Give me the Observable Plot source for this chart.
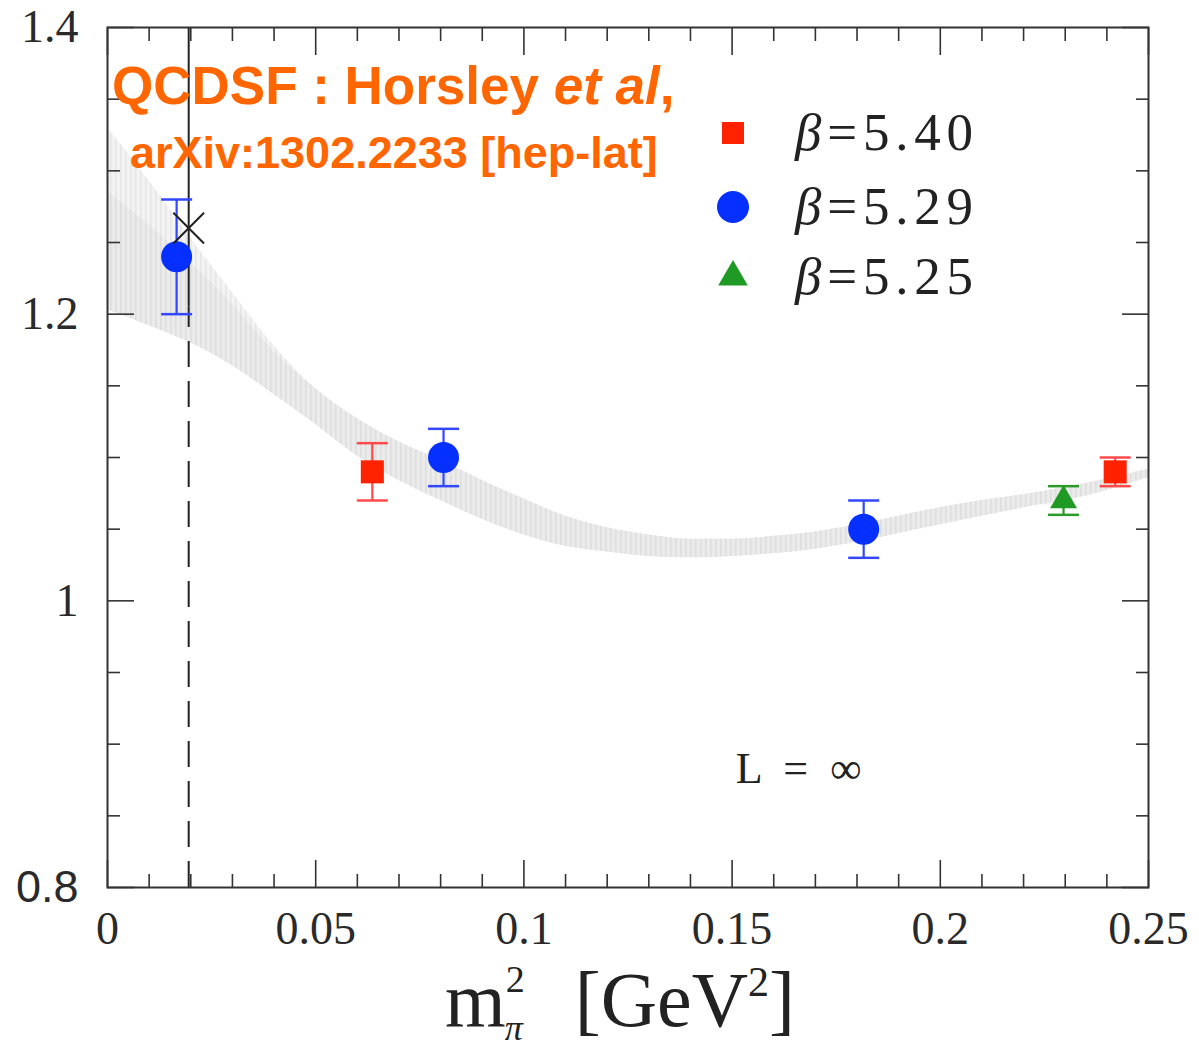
<!DOCTYPE html>
<html><head><meta charset="utf-8">
<script src="https://cdn.jsdelivr.net/npm/d3@7"></script>
<script src="https://cdn.jsdelivr.net/npm/@observablehq/plot@0.6"></script>
<style>body{margin:0;background:#fff;} #chart svg{display:block;}</style>
</head><body><div id="chart"></div>
<script>
// ---- tick values ----
const xMajorTicks = [0, 0.05, 0.1, 0.15, 0.2, 0.25];
const xMinorTicks = [0.01,0.02,0.03,0.04,0.06,0.07,0.08,0.09,0.11,0.12,0.13,0.14,0.16,0.17,0.18,0.19,0.21,0.22,0.23,0.24];
const yMajorTicks = [0.8, 1.0, 1.2, 1.4];
const yMinorTicks = [0.85,0.9,0.95,1.05,1.1,1.15,1.25,1.3,1.35];

// ---- data: beta = 5.40 (red squares) ----
const b540X = [0.0636, 0.242];
const b540Y = [1.09, 1.09];
const b540Err = [0.02, 0.01];
// ---- beta = 5.29 (blue circles) ----
const b529X = [0.0166, 0.0807, 0.1816];
const b529Y = [1.24, 1.10, 1.05];
const b529Err = [0.04, 0.02, 0.02];
// ---- beta = 5.25 (green triangle) ----
const b525X = [0.2296];
const b525Y = [1.07];
const b525Err = [0.01];

// ---- physical point (extrapolation) ----
const physX = [0.0195];
const physY = [1.26];

// ---- fit band ----
const bandX     = [0, 0.01, 0.02, 0.03, 0.04, 0.05, 0.06, 0.07, 0.08, 0.09, 0.10, 0.11, 0.12, 0.13, 0.14, 0.15, 0.16, 0.17, 0.18, 0.19, 0.20, 0.21, 0.22, 0.23, 0.24, 0.25];
const bandUpper = [1.330, 1.293, 1.253, 1.215, 1.178, 1.148, 1.127, 1.111, 1.098, 1.084, 1.071, 1.059, 1.051, 1.046, 1.043, 1.043, 1.045, 1.048, 1.053, 1.059, 1.065, 1.070, 1.074, 1.079, 1.085, 1.092];
const bandInner = [1.286, 1.262, 1.236, 1.207, 1.174, 1.148, 1.127, 1.111, 1.098, 1.084, 1.071, 1.059, 1.051, 1.046, 1.043, 1.043, 1.045, 1.048, 1.053, 1.059, 1.065, 1.070, 1.074, 1.079, 1.085, 1.092];
const bandLower = [1.203, 1.192, 1.180, 1.164, 1.144, 1.123, 1.101, 1.084, 1.070, 1.057, 1.046, 1.038, 1.034, 1.031, 1.030, 1.031, 1.033, 1.036, 1.041, 1.047, 1.053, 1.059, 1.065, 1.070, 1.077, 1.086];

// ---- text ----
const legendLabels = ["5.40", "5.29", "5.25"];
const annotation = {x: 0.166, y: 0.883, text: "L = ∞"};
const dashSplit = 1.205;

const band = bandX.map((x, i) => ({x, hi: bandUpper[i], inner: bandInner[i], lo: bandLower[i]}));
const toRows = (xs, ys, es) => xs.map((x, i) => ({x, y: ys[i], err: es[i]}));

const series = [
  {rows: toRows(b540X, b540Y, b540Err), symbol: "square", r: 13, fill: "#ff2200", bar: "#ff4a4a"},
  {rows: toRows(b529X, b529Y, b529Err), symbol: "circle", r: 15.5, fill: "#0530ff", bar: "#3347ff"},
  {rows: toRows(b525X, b525Y, b525Err), symbol: "triangle", r: 10, fill: "#1f9a24", bar: "#2a9a2a"}
];

const capSymbol = {draw(context, size) { const w = Math.sqrt(size / Math.PI); context.moveTo(-w, 0); context.lineTo(w, 0); }};
const fmt = d => String(+d.toFixed(2));
const serif = "'Liberation Serif', 'DejaVu Serif', serif";
const sans = "'Liberation Sans', Arial, sans-serif";

const marks = [
  Plot.areaY(band, {x: "x", y1: "lo", y2: "hi", fill: "url(#hatchOuter)", curve: "monotone-x"}),
  Plot.areaY(band, {x: "x", y1: "lo", y2: "inner", fill: "url(#hatchInner)", curve: "monotone-x"}),
  Plot.ruleX(physX, {x: d => d, y1: dashSplit, y2: 1.4, stroke: "#222", strokeWidth: 2}),
  Plot.ruleX(physX, {x: d => d, y1: 0.8, y2: dashSplit, stroke: "#222", strokeWidth: 2, strokeDasharray: "26,14"}),
  Plot.frame({stroke: "#333", strokeWidth: 2}),
  // inward ticks on all four sides
  Plot.axisX({ticks: xMinorTicks, anchor: "bottom", tickSize: -13, fill: "none", stroke: "#333", strokeWidth: 1.6, label: null}),
  Plot.axisX({ticks: xMajorTicks, anchor: "bottom", tickSize: -27, fill: "none", stroke: "#333", strokeWidth: 1.6, label: null}),
  Plot.axisX({ticks: xMinorTicks, anchor: "top", tickSize: -13, fill: "none", stroke: "#333", strokeWidth: 1.6, label: null}),
  Plot.axisX({ticks: xMajorTicks, anchor: "top", tickSize: -27, fill: "none", stroke: "#333", strokeWidth: 1.6, label: null}),
  Plot.axisY({ticks: yMinorTicks, anchor: "left", tickSize: -13, fill: "none", stroke: "#333", strokeWidth: 1.6, label: null}),
  Plot.axisY({ticks: yMajorTicks, anchor: "left", tickSize: -27, fill: "none", stroke: "#333", strokeWidth: 1.6, label: null}),
  Plot.axisY({ticks: yMinorTicks, anchor: "right", tickSize: -13, fill: "none", stroke: "#333", strokeWidth: 1.6, label: null}),
  Plot.axisY({ticks: yMajorTicks, anchor: "right", tickSize: -27, fill: "none", stroke: "#333", strokeWidth: 1.6, label: null}),
  // tick labels
  Plot.axisX({ticks: xMajorTicks, anchor: "bottom", tickSize: 0, tickPadding: 24, tickFormat: fmt, fontSize: 46, fontFamily: serif, fill: "#2a2a2a", label: null}),
  Plot.axisY({ticks: yMajorTicks, anchor: "left", tickSize: 0, tickPadding: 29, tickFormat: fmt, fontSize: 46, fontFamily: serif, fill: "#2a2a2a", label: null}),
];

for (const s of series) {
  marks.push(
    Plot.ruleX(s.rows, {x: "x", y1: d => d.y - d.err, y2: d => d.y + d.err, stroke: s.bar, strokeWidth: 2.2}),
    Plot.dot(s.rows, {x: "x", y: d => d.y + d.err, symbol: capSymbol, r: 15.5, fill: "none", stroke: s.bar, strokeWidth: 2.5}),
    Plot.dot(s.rows, {x: "x", y: d => d.y - d.err, symbol: capSymbol, r: 15.5, fill: "none", stroke: s.bar, strokeWidth: 2.5}),
    Plot.dot(s.rows, {x: "x", y: "y", symbol: s.symbol, r: s.r, fill: s.fill, stroke: "none"})
  );
}
marks.push(
  Plot.dot(physX, {x: d => d, y: (d, i) => physY[i], symbol: "times", r: 14, stroke: "#222", strokeWidth: 2}),
  Plot.text([annotation], {x: "x", y: "y", text: "text", fontSize: 44, fontFamily: serif, fill: "#222", className: "lanno"})
);

const plot = Plot.plot({
  width: 1199, height: 1052,
  marginLeft: 107, marginRight: 51, marginTop: 27, marginBottom: 165,
  x: {domain: [0, 0.25]},
  y: {domain: [0.8, 1.4]},
  style: {fontFamily: serif, color: "#222", background: "white", overflow: "visible"},
  marks
});

const svg = d3.select(plot);
// hatch patterns for the fit band
const defs = svg.insert("defs", ":first-child");
const p1 = defs.append("pattern").attr("id", "hatchOuter").attr("width", 5).attr("height", 10).attr("patternUnits", "userSpaceOnUse");
p1.append("rect").attr("width", 5).attr("height", 10).attr("fill", "#f3f3f3");
p1.append("rect").attr("width", 1.6).attr("height", 10).attr("fill", "#e6e6e6");
const p2 = defs.append("pattern").attr("id", "hatchInner").attr("width", 5).attr("height", 10).attr("patternUnits", "userSpaceOnUse");
p2.append("rect").attr("width", 5).attr("height", 10).attr("fill", "#ebebeb");
p2.append("rect").attr("width", 1.6).attr("height", 10).attr("fill", "#dedede");

// "0.8" tick label is sans-serif in the original
svg.selectAll("text").filter(function() { return this.textContent === "0.8"; })
  .attr("font-family", sans).style("font-family", sans).attr("font-size", 45);
// widen "L = ∞" like the original
svg.selectAll(".lanno text").attr("textLength", 126).attr("lengthAdjust", "spacing");

// title (orange)
const t1 = svg.append("text").attr("x", 112).attr("y", 104).attr("text-anchor", "start").attr("font-family", sans).attr("font-weight", "bold")
  .attr("font-size", 53).attr("fill", "#ff6600");
t1.append("tspan").text("QCDSF : Horsley ");
t1.append("tspan").attr("font-style", "italic").text("et al");
t1.append("tspan").text(",");
svg.append("text").attr("x", 130).attr("y", 168).attr("text-anchor", "start").attr("font-family", sans).attr("font-weight", "bold")
  .attr("font-size", 45).attr("fill", "#ff6600").text("arXiv:1302.2233 [hep-lat]");

// legend
const legendY = [133, 207, 277];
series.forEach((s, i) => {
  const sym = s.symbol === "square" ? d3.symbolSquare : s.symbol === "circle" ? d3.symbolCircle : d3.symbolTriangle;
  const size = s.symbol === "square" ? 22 * 22 : s.symbol === "circle" ? Math.PI * 16 * 16 : Math.PI * 11 * 11;
  svg.append("path").attr("d", d3.symbol(sym, size)()).attr("transform", `translate(733,${legendY[i]})`).attr("fill", s.fill);
  const t = svg.append("text").attr("x", 795).attr("y", legendY[i] + 17).attr("text-anchor", "start").attr("font-family", serif)
    .attr("font-size", 53).attr("fill", "#222").attr("textLength", 178).attr("lengthAdjust", "spacing");
  t.append("tspan").attr("font-style", "italic").text("β");
  t.append("tspan").text("=" + legendLabels[i]);
});

// x-axis title: m²_π [GeV²]
const xl = svg.append("text").attr("x", 445).attr("y", 1026).attr("text-anchor", "start").attr("font-family", serif).attr("font-size", 78).attr("fill", "#222");
xl.append("tspan").text("m");
xl.append("tspan").attr("font-size", 38).attr("dy", -34).text("2");
xl.append("tspan").attr("font-size", 36).attr("font-style", "italic").attr("dx", -20).attr("dy", 48).text("π");
xl.append("tspan").attr("dx", 52).attr("dy", -14).text("[GeV");
xl.append("tspan").attr("font-size", 42).attr("dy", -30).text("2");
xl.append("tspan").attr("dy", 30).text("]");

document.getElementById("chart").appendChild(plot);
</script>
</body></html>
